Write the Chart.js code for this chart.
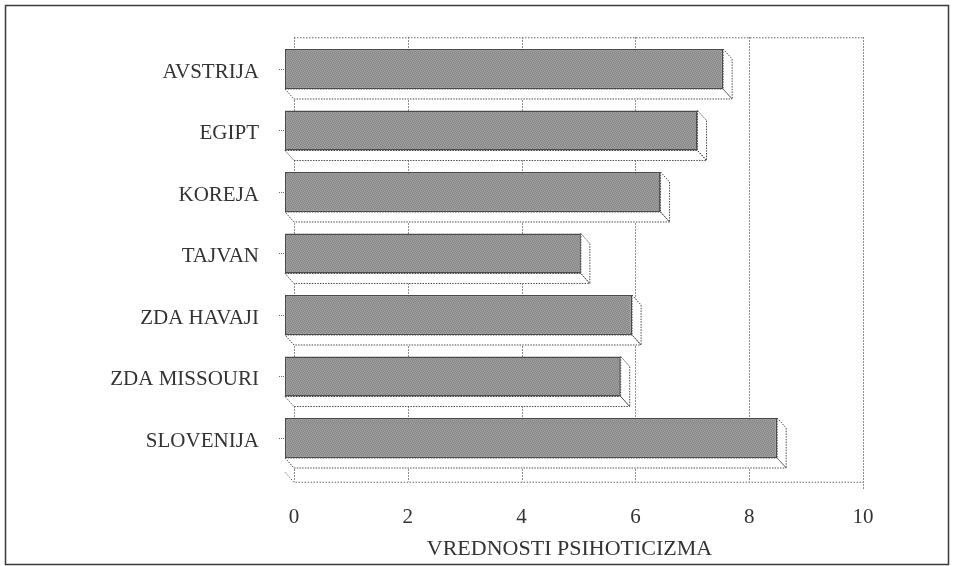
<!DOCTYPE html>
<html>
<head>
<meta charset="utf-8">
<script src="https://cdn.jsdelivr.net/npm/chart.js@4/dist/chart.umd.min.js"></script>
<style>
  html, body { margin: 0; background: #fff; }
  #wrap { width: 954px; height: 566px; }
</style>
</head>
<body>
<div id="wrap"><canvas id="chart"></canvas></div>
<script>
/* Psihoticizem po državah — vodoravni stolpci s 3D robom, risano s Chart.js. */

const countries = ["AVSTRIJA", "EGIPT", "KOREJA", "TAJVAN", "ZDA HAVAJI", "ZDA MISSOURI", "SLOVENIJA"];
const psychoticism = [7.7, 7.25, 6.6, 5.2, 6.1, 5.9, 8.65];
const xTicks = [0, 2, 4, 6, 8, 10];
const axisTitle = "VREDNOSTI PSIHOTICIZMA";

const FONT = "'Liberation Serif', 'Times New Roman', serif";
const INK = "#333";
const DX = 9, DY = 10;   // globina 3D roba

// drobna siva tekstura za sprednjo ploskev stolpcev
function barPattern() {
  const shade = [[0, 2, 1, 3], [2, 3, 0, 1], [1, 0, 3, 2], [3, 1, 2, 0]];
  const greys = ["#868686", "#8f8f8f", "#979797", "#a0a0a0"];
  const c = document.createElement("canvas");
  c.width = 4; c.height = 4;
  const g = c.getContext("2d");
  shade.forEach((row, y) => row.forEach((v, x) => { g.fillStyle = greys[v]; g.fillRect(x, y, 1, 1); }));
  return g.createPattern(c, "repeat");
}

function dotted(ctx, pts, close) {
  ctx.beginPath();
  ctx.moveTo(pts[0][0], pts[0][1]);
  pts.slice(1).forEach(([x, y]) => ctx.lineTo(x, y));
  if (close) ctx.closePath();
  ctx.stroke();
}

const depth3d = {
  id: "depth3d",
  beforeDraw(chart) {
    const { ctx, width, height } = chart;
    ctx.save();
    ctx.fillStyle = "#fff";
    ctx.fillRect(0, 0, width, height);
    ctx.restore();
  },
  beforeDatasetsDraw(chart) {
    const { ctx, chartArea: a, scales: { x } } = chart;
    const top = a.top - 1, floor = a.bottom + 13;
    const x0 = x.getPixelForValue(0) + DX, x10 = x.getPixelForValue(10) + DX;
    ctx.save();
    ctx.strokeStyle = "#6a6a6a";
    ctx.lineWidth = 1;
    ctx.setLineDash([1.5, 1.5]);
    xTicks.forEach((v) => {
      const px = Math.round(x.getPixelForValue(v) + DX) + 0.5;
      dotted(ctx, [[px, top], [px, v === 10 ? floor + 7 : floor]]);
    });
    dotted(ctx, [[x0, top + 0.5], [x10, top + 0.5]]);
    dotted(ctx, [[x0 - DX, floor - DY + 0.5], [x0, floor + 0.5], [x10, floor + 0.5]]);

    // bočna in spodnja ploskev vsakega stolpca
    chart.getDatasetMeta(0).data.forEach((bar) => {
      const h = bar.height / 2;
      const xs = bar.base, xe = bar.x, yt = bar.y - h, yb = bar.y + h;
      const side = [[xe, yt], [xe + DX, yt + DY], [xe + DX, yb + DY], [xe, yb]];
      const bottom = [[xs, yb], [xe, yb], [xe + DX, yb + DY], [xs + DX, yb + DY]];
      ctx.fillStyle = "#fff";
      ctx.setLineDash([]);
      [side, bottom].forEach((p) => {
        ctx.beginPath();
        ctx.moveTo(p[0][0], p[0][1]);
        p.slice(1).forEach(([px, py]) => ctx.lineTo(px, py));
        ctx.closePath();
        ctx.fill();
      });
      ctx.strokeStyle = "#4d4d4d";
      ctx.setLineDash([1.5, 1.2]);
      dotted(ctx, side, true);
      dotted(ctx, bottom, true);
    });
    ctx.restore();
  },
  afterDraw(chart) {
    const { ctx } = chart;
    ctx.save();
    ctx.strokeStyle = "#3a3a3a";
    ctx.lineWidth = 1.5;
    ctx.strokeRect(5.5, 5.5, 943, 559);
    ctx.restore();
  },
};

new Chart(document.getElementById("chart"), {
  type: "bar",
  data: {
    labels: countries,
    datasets: [{
      data: psychoticism,
      backgroundColor: barPattern(),
      borderColor: "#4a4a4a",
      borderWidth: 1.5,
      borderSkipped: false,
      barPercentage: 0.65,
      categoryPercentage: 1,
    }],
  },
  plugins: [depth3d],
  options: {
    indexAxis: "y",
    responsive: true,
    maintainAspectRatio: false,
    animation: false,
    layout: { padding: { top: 38.25, right: 100, bottom: 0, left: 0 } },
    plugins: { legend: { display: false }, tooltip: { enabled: false } },
    scales: {
      x: {
        min: 0,
        max: 10,
        afterBuildTicks: (s) => { s.ticks = xTicks.map((v) => ({ value: v })); },
        afterFit: (s) => { s.height = 97.25; },
        grid: { display: false, drawTicks: false },
        border: { display: false },
        ticks: { font: { family: FONT, size: 21 }, color: INK, padding: 36, labelOffset: DX },
        title: {
          display: true, text: axisTitle, color: INK,
          font: { family: FONT, size: 22 }, padding: { top: 6, bottom: 4 },
        },
      },
      y: {
        afterFit: (s) => { s.width = 285; },
        grid: {
          display: true, drawOnChartArea: false, drawTicks: true, tickLength: 6,
          offset: false, color: "#666", tickBorderDash: [1, 1],
        },
        border: { display: false },
        ticks: { font: { family: FONT, size: 21 }, color: INK, padding: 20, labelOffset: 3 },
      },
    },
  },
});
</script>
</body>
</html>
